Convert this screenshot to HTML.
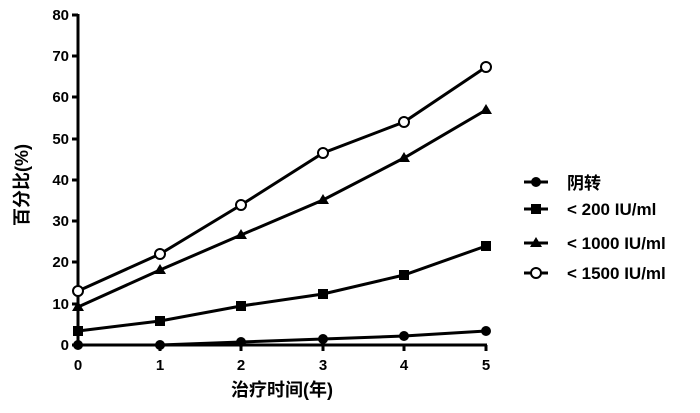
<!DOCTYPE html>
<html><head><meta charset="utf-8"><style>
body{margin:0;background:#fff}
svg text{font-family:"Liberation Sans","Noto Sans CJK SC",sans-serif;font-weight:bold;fill:#000}
</style></head><body>
<svg width="700" height="408" viewBox="0 0 700 408" xmlns="http://www.w3.org/2000/svg">
<g stroke="#000" stroke-width="3" fill="none">
<line x1="78" y1="14" x2="78" y2="346"/>
<line x1="76.5" y1="345" x2="487" y2="345"/>
<line x1="72" y1="15" x2="78" y2="15"/><line x1="72" y1="56" x2="78" y2="56"/>
<line x1="72" y1="97" x2="78" y2="97"/><line x1="72" y1="139" x2="78" y2="139"/>
<line x1="72" y1="180" x2="78" y2="180"/><line x1="72" y1="221" x2="78" y2="221"/>
<line x1="72" y1="262" x2="78" y2="262"/><line x1="72" y1="304" x2="78" y2="304"/>
<line x1="72" y1="345" x2="78" y2="345"/>
<line x1="160" y1="345" x2="160" y2="351"/><line x1="241" y1="345" x2="241" y2="351"/>
<line x1="323" y1="345" x2="323" y2="351"/><line x1="404" y1="345" x2="404" y2="351"/>
<line x1="486" y1="345" x2="486" y2="351"/>
<polyline points="78,291 160,254 241,205 323,153 404,122 486,67"/>
<polyline points="78,307 160,270 241,235 323,200 404,158 486,110"/>
<polyline points="78,331 160,321 241,306 323,294 404,275 486,246"/>
<polyline points="78,345 160,345 241,342 323,339 404,336 486,331"/>
<line x1="524" y1="182" x2="548" y2="182"/><line x1="524" y1="209" x2="548" y2="209"/>
<line x1="524" y1="243" x2="548" y2="243"/><line x1="524" y1="273" x2="548" y2="273"/>
</g>
<g fill="#000">
<circle cx="78" cy="345" r="5"/><circle cx="160" cy="345" r="5"/><circle cx="241" cy="342" r="5"/><circle cx="323" cy="339" r="5"/><circle cx="404" cy="336" r="5"/><circle cx="486" cy="331" r="5"/>
<rect x="73" y="326" width="10" height="10"/><rect x="155" y="316" width="10" height="10"/><rect x="236" y="301" width="10" height="10"/><rect x="318" y="289" width="10" height="10"/><rect x="399" y="270" width="10" height="10"/><rect x="481" y="241" width="10" height="10"/>
<polygon points="78,301 84,311 72,311"/><polygon points="160,264 166,274 154,274"/><polygon points="241,229 247,239 235,239"/><polygon points="323,194 329,204 317,204"/><polygon points="404,152 410,162 398,162"/><polygon points="486,104 492,114 480,114"/>
<circle cx="536" cy="182" r="5"/><rect x="531" y="204" width="10" height="10"/><polygon points="536,237 542,247 530,247"/>
</g>
<g fill="#fff" stroke="#000" stroke-width="2">
<circle cx="78" cy="291" r="5"/><circle cx="160" cy="254" r="5"/><circle cx="241" cy="205" r="5"/><circle cx="323" cy="153" r="5"/><circle cx="404" cy="122" r="5"/><circle cx="486" cy="67" r="5"/>
<circle cx="536" cy="273" r="5"/>
</g>
<g font-size="15" text-anchor="end">
<text x="69" y="20">80</text><text x="69" y="61">70</text><text x="69" y="102">60</text><text x="69" y="144">50</text><text x="69" y="185">40</text><text x="69" y="226">30</text><text x="69" y="267">20</text><text x="69" y="309">10</text><text x="69" y="350">0</text>
</g>
<g font-size="15" text-anchor="middle">
<text x="78" y="370">0</text><text x="160" y="370">1</text><text x="241" y="370">2</text><text x="323" y="370">3</text><text x="404" y="370">4</text><text x="486" y="370">5</text>
</g>
<g font-size="18" text-anchor="middle">
<text x="282" y="396">治疗时间(年)</text>
<text transform="translate(28,185) rotate(-90)">百分比(%)</text>
</g>
<g font-size="17">
<text x="567" y="189">阴转</text><text x="567" y="215">&lt; 200 IU/ml</text><text x="567" y="249">&lt; 1000 IU/ml</text><text x="567" y="279">&lt; 1500 IU/ml</text>
</g>
</svg>
</body></html>
